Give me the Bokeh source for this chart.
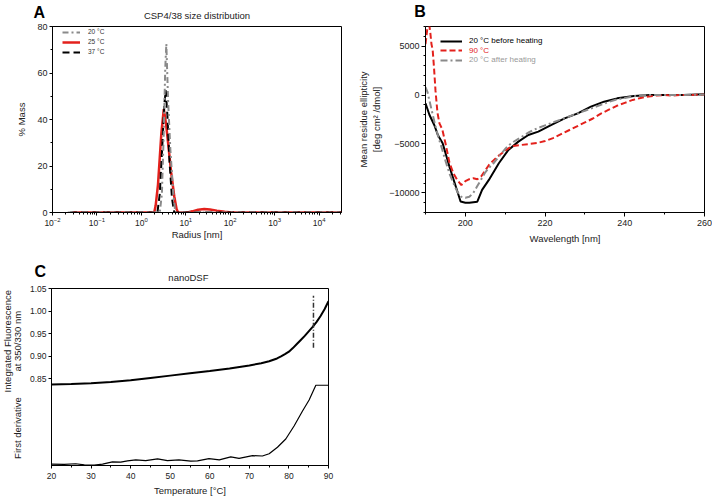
import math
from bokeh.plotting import figure
from bokeh.models import (Range1d, SingleIntervalTicker, FixedTicker, PrintfTickFormatter,
                          Label, Legend, LegendItem, LogTicker)
from bokeh.layouts import column, row
from bokeh.embed import file_html
from bokeh.resources import INLINE

FONT = "Liberation Sans"

# ---------------- Panel A : DLS size distribution ----------------
a_radius_20 = [0.022, 2.6, 2.9, 3.2, 3.45, 3.65, 4.0, 4.5, 5.2, 5.8, 32000]
a_mass_20 = [0, 0, 8, 35, 62, 72.5, 48, 27, 9, 0, 0]

a_radius_25 = [0.028, 1.95, 2.1, 2.37, 2.82, 3.2, 3.6, 4.1, 4.7, 5.5, 6.2, 6.7,
               11, 14, 19, 26, 35, 50, 75, 110, 140, 32000]
a_mass_25 = [0, 0, 3, 12, 34, 44.5, 38, 28, 17, 7, 1.5, 0,
             0, 0.5, 1.2, 1.5, 1.3, 0.8, 0.3, 0.05, 0, 0]

a_radius_37 = [0.025, 2.3, 2.6, 2.95, 3.3, 3.55, 3.85, 4.3, 4.9, 5.5, 32000]
a_mass_37 = [0, 0, 8, 28, 47, 52.5, 42, 22, 6, 0, 0]

a_labels = ["20 °C", "25 °C", "37 °C"]

# ---------------- Panel B : CD spectra ----------------
b_wl_before = [190, 191.0, 192.2, 193.1, 194.3, 196.0, 197.6, 198.8, 200, 201, 202, 203,
               204.2, 205.9, 208.4, 210.8, 213.3, 215.8, 218.3, 221.6, 224.9, 228.2,
               231.5, 234.8, 238.1, 242.3, 246.4, 250, 254.7, 260]
b_mre_before = [-850, -2040, -3060, -4080, -4930, -7310, -9350, -10880, -11000, -11000, -10950, -10900,
                -9690, -8670, -6970, -5610, -4760, -4080, -3740, -3060, -2380, -1870,
                -1190, -680, -340, -100, 0, 0, 0, 70]

b_wl_90 = [190, 190.4, 190.8, 191.2, 191.5, 191.8, 192.1, 192.5, 193, 193.5, 194.2, 195,
           196, 197, 198, 199, 200, 201, 202, 203, 204, 205, 206, 207, 208, 209, 210,
           211, 212, 214, 216, 218, 220, 222, 224, 226, 228, 230, 232, 234, 236, 238,
           240, 242, 244, 246, 248, 250, 252, 254, 256, 258, 260]
b_mre_90 = [5200, 6600, 7600, 6400, 5200, 4600, 3000, 500, -1800, -2900, -3500, -4900,
            -6900, -8000, -8700, -9200, -8800, -8600, -8500, -8600, -8300, -7700, -7100, -6700, -6300, -6000, -5700,
            -5400, -5200, -5100, -5000, -4900, -4700, -4400, -4000, -3600, -3200, -2800, -2400, -1900, -1500, -1100,
            -800, -500, -300, -150, -50, 0, -50, 0, 0, 30, 50]

b_wl_after = [190, 190.5, 191, 191.7, 192.5, 193.3, 194, 195, 196, 197, 198, 199, 200, 201,
              202, 203, 204, 205, 206, 207, 208, 209, 210, 211, 212, 214, 216, 218, 220,
              222, 224, 226, 228, 230, 232, 234, 236, 238, 240, 242, 244, 246, 250, 255, 260]
b_mre_after = [800, 300, -600, -1800, -3200, -4400, -5300, -6700, -8000, -9000, -9900, -10400, -10500, -10400,
               -10000, -9300, -8600, -7900, -7400, -7000, -6500, -6000, -5500, -5100, -4800, -4300, -3800, -3400, -3100,
               -2800, -2500, -2200, -1900, -1600, -1300, -1000, -700, -450, -300, -150, -50, 0, 0, 0, 50]

b_labels = ["20 °C before heating", "90 °C", "20 °C after heating"]

# ---------------- Panel C : nanoDSF ----------------
c_temp = [20, 25, 30, 35, 40, 45, 50, 55, 60, 65, 70, 73, 75, 77, 78, 79, 80, 81, 82,
          83, 84, 85, 86, 87, 88, 89, 90]
c_ratio = [0.8374, 0.8383, 0.8400, 0.8428, 0.8465, 0.8518, 0.8570, 0.8620, 0.8670, 0.8730,
           0.8795, 0.8845, 0.8888, 0.8950, 0.8995, 0.9045, 0.910, 0.918, 0.927, 0.936, 0.945,
           0.955, 0.965, 0.976, 0.989, 1.004, 1.022]

c_deriv_temp = [20.0, 23.2, 26.1, 28.3, 30.8, 32.9, 35.4, 37.5, 39.2, 41.3, 43.8, 46.8, 49.3,
                52.2, 55.2, 56.9, 59.8, 62.4, 65.3, 67.4, 70.8, 73.3, 75.0, 77.1, 79.2, 81.3,
                83.4, 85.1, 86.8, 90.0]
c_deriv = [0.0, -0.02, 0.02, -0.04, -0.06, 0.0, 0.13, 0.11, 0.18, 0.24, 0.20, 0.30, 0.20,
           0.24, 0.17, 0.18, 0.31, 0.24, 0.41, 0.33, 0.48, 0.46, 0.59, 0.96, 1.43, 2.17,
           3.01, 3.65, 4.49, 4.49]

c_tm_temp = [86.2, 86.2]
c_tm_ratio = [0.919, 1.034]
c_yticks = [0.85, 0.90, 0.95, 1.00, 1.05]

RED = "#e3211c"
GRAY = "#8a8a8a"


def style(p, tick_size, tick_out=3, label_standoff=3):
    p.grid.visible = False
    p.outline_line_color = "black"
    p.outline_line_width = 1
    p.background_fill_color = "white"
    p.border_fill_color = "white"
    for ax in p.axis:
        ax.axis_line_color = "black"
        ax.major_tick_line_color = "black"
        ax.minor_tick_line_color = "black"
        ax.major_tick_in = 0
        ax.major_tick_out = tick_out
        ax.minor_tick_in = 0
        ax.minor_tick_out = 2
        ax.major_label_text_font = FONT
        ax.major_label_text_font_size = tick_size
        ax.major_label_text_color = "#222222"
        ax.major_label_standoff = 2
        ax.axis_label_text_font = FONT
        ax.axis_label_text_font_style = "normal"
        ax.axis_label_text_font_size = "9.5px"
        ax.axis_label_text_color = "#222222"
        ax.axis_label_standoff = label_standoff


def text_label(p, x, y, text, place, size="9.5px", bold=False, align="center", angle=0.0,
               color="#222222"):
    # data-unit position (absolute on the canvas); placed in a side panel so it is not
    # clipped to the plotting frame
    p.add_layout(Label(x=x, y=y, x_units="data", y_units="data", text=text,
                       text_font=FONT, text_font_size=size,
                       text_font_style="bold" if bold else "normal",
                       text_align=align, text_baseline="middle", angle=angle,
                       text_color=color), place)


# ---------------- figure A ----------------
pA = figure(width=355, height=250, x_axis_type="log", x_range=Range1d(0.01, 32000),
            y_range=Range1d(0, 80), output_backend="svg", toolbar_location=None, title=None,
            min_border_left=52, min_border_right=14, min_border_top=24, min_border_bottom=36)
rA25 = pA.line(a_radius_25, a_mass_25, line_color=RED, line_width=2.5)
rA37 = pA.line(a_radius_37, a_mass_37, line_color="black", line_width=2, line_dash="7 4")
rA20 = pA.line(a_radius_20, a_mass_20, line_color=GRAY, line_width=2, line_dash="6 3 2 3")
style(pA, "9px")
pA.xaxis.ticker = LogTicker(desired_num_ticks=8, num_minor_ticks=10)
pA.xaxis.major_label_text_font_size = "8.5px"
pA.xaxis.major_label_standoff = 1
pA.xaxis.axis_label_standoff = 0
pA.yaxis.ticker = SingleIntervalTicker(interval=20, num_minor_ticks=2)
pA.xaxis.axis_label = "Radius [nm]"
pA.yaxis.axis_label = "% Mass"
pA.yaxis.axis_label_standoff = 7
legA = Legend(items=[LegendItem(label=a_labels[0], renderers=[rA20]),
                     LegendItem(label=a_labels[1], renderers=[rA25]),
                     LegendItem(label=a_labels[2], renderers=[rA37])],
              location=(10, 156.3), padding=0, margin=0, spacing=2, glyph_width=18,
              glyph_height=8, label_height=8, label_standoff=8,
              label_text_font=FONT, label_text_font_size="6.5px", label_text_color="#333333",
              border_line_color=None, background_fill_alpha=0)
pA.add_layout(legA)
text_label(pA, 17.88, 84.63, "CSP4/38 size distribution", "above")
text_label(pA, 0.003736, 85.9, "A", "left", size="16px", bold=True, align="left", color="black")

# ---------------- figure B ----------------
pB = figure(width=357, height=250, x_range=Range1d(190, 260), y_range=Range1d(-12000, 7000),
            output_backend="svg", toolbar_location=None, title=None,
            min_border_left=68, min_border_right=8, min_border_top=26, min_border_bottom=38)
rBb = pB.line(b_wl_before, b_mre_before, line_color="black", line_width=2)
rB90 = pB.line(b_wl_90, b_mre_90, line_color=RED, line_width=2, line_dash="6 3")
rBa = pB.line(b_wl_after, b_mre_after, line_color=GRAY, line_width=2, line_dash="7 3 2 3")
style(pB, "9px", tick_out=4, label_standoff=4)
pB.xaxis.ticker = SingleIntervalTicker(interval=20, num_minor_ticks=2)
pB.yaxis.ticker = SingleIntervalTicker(interval=5000, num_minor_ticks=5)
pB.xaxis.major_label_standoff = 3
pB.xaxis.axis_label = "Wavelength [nm]"
pB.yaxis.axis_label = "Mean residue ellipticity\n[deg cm² /dmol]"
for i, (rend, col, vy) in enumerate([(rBb, "black", 167), (rB90, RED, 157.3), (rBa, "#999999", 148)]):
    lg = Legend(items=[LegendItem(label=b_labels[i], renderers=[rend])],
                location=(15, vy), padding=0, margin=0, spacing=0, glyph_width=22,
                glyph_height=8, label_height=8, label_standoff=7,
                label_text_font=FONT, label_text_font_size="8px", label_text_color=col,
                border_line_color=None, background_fill_alpha=0)
    pB.add_layout(lg)
text_label(pB, 187.19, 8550, "B", "above", size="16px", bold=True, align="left", color="black")

# ---------------- figure C ----------------
pC = figure(width=712, height=248, x_range=Range1d(20, 90), y_range=Range1d(0.6579, 1.05),
            output_backend="svg", toolbar_location=None, title=None,
            min_border_left=51, min_border_right=384, min_border_top=38, min_border_bottom=32)
pC.extra_y_ranges = {"deriv": Range1d(-0.08, 10)}
pC.line(c_temp, c_ratio, line_color="black", line_width=2)
pC.line(c_deriv_temp, c_deriv, line_color="black", line_width=1.2, y_range_name="deriv")
pC.line(c_tm_temp, c_tm_ratio, line_color="#333333", line_width=1.5, line_dash="5 2 1 2")
style(pC, "8.5px", tick_out=3, label_standoff=3)
pC.xaxis.ticker = SingleIntervalTicker(interval=10, num_minor_ticks=2)
pC.xaxis.major_label_standoff = 4
pC.yaxis.ticker = FixedTicker(ticks=c_yticks)
pC.yaxis.formatter = PrintfTickFormatter(format="%.2f")
pC.xaxis.axis_label = "Temperature [°C]"
text_label(pC, 54.6, 1.0742, "nanoDSF", "right")
text_label(pC, 15.7, 1.0875, "C", "right", size="16px", bold=True, align="left", color="black")
text_label(pC, 8.88, 0.9332, "Integrated Fluorescence", "right", angle=math.pi / 2)
text_label(pC, 11.53, 0.9332, "at 350/330 nm", "right", angle=math.pi / 2)
text_label(pC, 11.53, 0.7409, "First derivative", "right", angle=math.pi / 2)

layout = column(row(pA, pB), pC)
with open("out.html", "w", encoding="utf-8") as f:
    f.write(file_html(layout, INLINE))
